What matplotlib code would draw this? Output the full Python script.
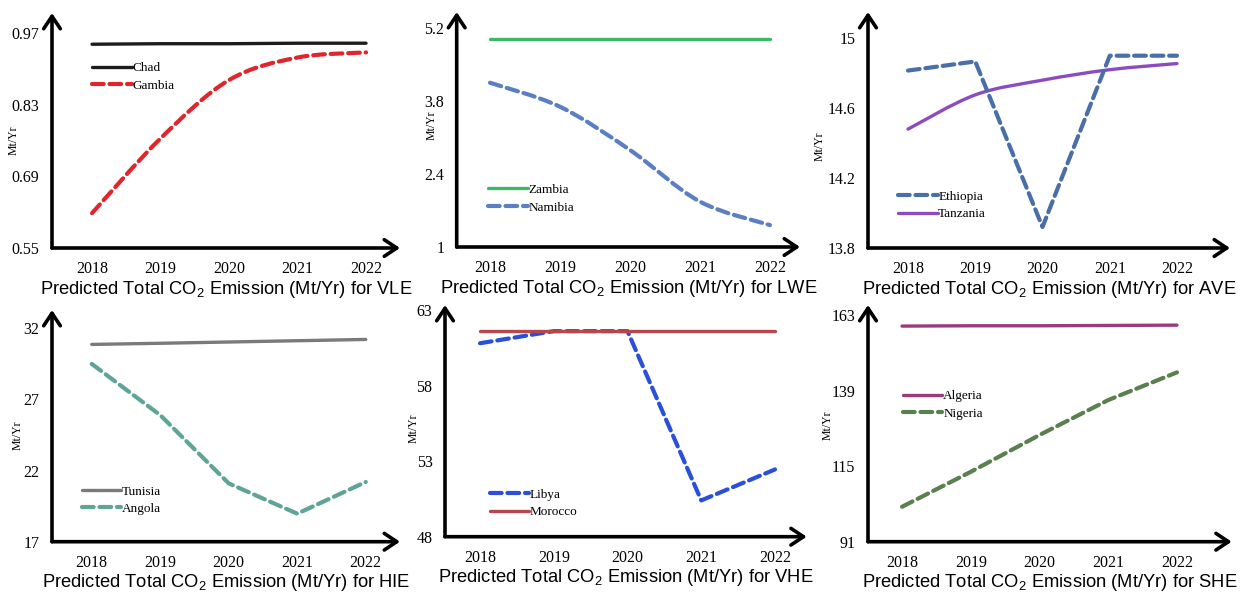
import matplotlib
matplotlib.use("Agg")
import matplotlib.pyplot as plt
from matplotlib.path import Path
from matplotlib.patches import PathPatch
from matplotlib.lines import Line2D

plt.rcParams['mathtext.fontset'] = 'custom'
plt.rcParams['mathtext.rm'] = 'Liberation Sans'
plt.rcParams['mathtext.it'] = 'Liberation Sans:italic'
plt.rcParams['mathtext.bf'] = 'Liberation Sans:bold'

years = [2018, 2019, 2020, 2021, 2022]
year_labels = ['2018', '2019', '2020', '2021', '2022']

# VLE
chad = [0.948, 0.949, 0.949, 0.950, 0.950]
gambia = [0.618, 0.764, 0.878, 0.922, 0.932]
vle_ticks = [0.55, 0.69, 0.83, 0.97]
vle_ticklabels = ['0.55', '0.69', '0.83', '0.97']
# LWE
zambia = [4.98, 4.98, 4.98, 4.98, 4.98]
namibia = [4.15, 3.69, 2.86, 1.87, 1.42]
lwe_ticks = [1, 2.4, 3.8, 5.2]
lwe_ticklabels = ['1', '2.4', '3.8', '5.2']
# AVE
ethiopia = [14.815, 14.867, 13.92, 14.90, 14.90]
tanzania = [14.48, 14.676, 14.76, 14.82, 14.855]
ave_ticks = [13.8, 14.2, 14.6, 15.0]
ave_ticklabels = ['13.8', '14.2', '14.6', '15']
# HIE
tunisia = [30.87, 30.95, 31.04, 31.13, 31.22]
angola = [29.5, 25.9, 21.1, 18.97, 21.2]
hie_ticks = [17, 22, 27, 32]
hie_ticklabels = ['17', '22', '27', '32']
# VHE
libya = [60.8, 61.6, 61.6, 50.4, 52.45]
morocco = [61.6, 61.6, 61.6, 61.6, 61.6]
vhe_ticks = [48, 53, 58, 63]
vhe_ticklabels = ['48', '53', '58', '63']
# SHE
algeria = [159.5, 159.6, 159.6, 159.7, 159.8]
nigeria = [102.1, 113.2, 124.9, 136.0, 144.8]
she_ticks = [91, 115, 139, 163]
she_ticklabels = ['91', '115', '139', '163']

W, H = 1252, 593
fig = plt.figure(figsize=(W / 100, H / 100), dpi=100)

SERIF = 'Liberation Serif'
SANS = 'Liberation Sans'
DASH = (0, (2.8, 1.4))


def smooth_path(xs, ys):
    # Catmull-Rom style smoothing rendered as cubic Bezier segments
    verts = [(xs[0], ys[0])]
    codes = [Path.MOVETO]
    n = len(xs)
    for i in range(n - 1):
        x0, y0 = (xs[i - 1], ys[i - 1]) if i > 0 else (xs[i], ys[i])
        x1, y1 = xs[i], ys[i]
        x2, y2 = xs[i + 1], ys[i + 1]
        x3, y3 = (xs[i + 2], ys[i + 2]) if i + 2 < n else (xs[i + 1], ys[i + 1])
        c1 = (x1 + (x2 - x0) / 6.0, y1 + (y2 - y0) / 6.0)
        c2 = (x2 - (x3 - x1) / 6.0, y2 - (y3 - y1) / 6.0)
        verts += [c1, c2, (x2, y2)]
        codes += [Path.CURVE4, Path.CURVE4, Path.CURVE4]
    return Path(verts, codes)


panels = [
    dict(px=(52, 13, 400, 248), xlim=(2017.416, 2022.496), ylim=(0.55, 1.009),
         ticks=vle_ticks, tl=vle_ticklabels, name='VLE',
         series=[('Chad', chad, '#1c1c1c', False, False, 2.4),
                 ('Gambia', gambia, '#e0262c', True, True, 3.0)],
         leg=(0.115, 0.757), ylab=(-0.109, 0.46)),
    dict(px=(456.7, 12, 800, 247), xlim=(2017.524, 2022.429), ylim=(1.0, 5.507),
         ticks=lwe_ticks, tl=lwe_ticklabels, name='LWE',
         series=[('Zambia', zambia, '#3cb867', False, False, 2.4),
                 ('Namibia', namibia, '#5b7fc4', True, True, 3.0)],
         leg=(0.091, 0.235), ylab=(-0.072, 0.52)),
    dict(px=(868, 12, 1230, 248), xlim=(2017.405, 2022.788), ylim=(13.8, 15.15),
         ticks=ave_ticks, tl=ave_ticklabels, name='AVE',
         series=[('Ethiopia', ethiopia, '#4a6fa8', True, False, 3.0),
                 ('Tanzania', tanzania, '#8a4cc0', False, True, 2.4)],
         leg=(0.083, 0.21), ylab=(-0.133, 0.43)),
    dict(px=(52, 310, 400, 541.7), xlim=(2017.42, 2022.50), ylim=(17, 33.29),
         ticks=hie_ticks, tl=hie_ticklabels, name='HIE',
         series=[('Tunisia', tunisia, '#7a7a7a', False, False, 2.4),
                 ('Angola', angola, '#5fa597', True, False, 3.0)],
         leg=(0.085, 0.209), ylab=(-0.098, 0.46)),
    dict(px=(445, 305, 806.7, 536.7), xlim=(2017.525, 2022.43), ylim=(48, 63.33),
         ticks=vhe_ticks, tl=vhe_ticklabels, name='VHE',
         series=[('Libya', libya, '#2a4fd8', True, False, 3.0),
                 ('Morocco', morocco, '#b5474d', False, False, 2.4)],
         leg=(0.124, 0.173), ylab=(-0.088, 0.47)),
    dict(px=(868, 305, 1231.7, 541.7), xlim=(2017.505, 2022.796), ylim=(91, 166.2),
         ticks=she_ticks, tl=she_ticklabels, name='SHE',
         series=[('Algeria', algeria, '#9c3b7c', False, False, 2.4),
                 ('Nigeria', nigeria, '#5a8050', True, False, 3.0)],
         leg=(0.096, 0.606), ylab=(-0.11, 0.49)),
]

for p in panels:
    l, t, r, b = p['px']
    ax = fig.add_axes([l / W, 1 - b / H, (r - l) / W, (b - t) / H])
    ax.set_xlim(*p['xlim'])
    ax.set_ylim(*p['ylim'])
    for s in ax.spines.values():
        s.set_visible(False)
    ax.patch.set_alpha(0)
    handles = []
    for label, vals, color, dashed, smooth, lw in p['series']:
        ls = DASH if dashed else '-'
        if smooth:
            patch = PathPatch(smooth_path(years, vals), fill=False, edgecolor=color,
                              lw=lw, linestyle=ls, capstyle='round', joinstyle='round')
            ax.add_patch(patch)
        else:
            ax.plot(years, vals, color=color, lw=lw, linestyle=ls,
                    dash_capstyle='round', solid_capstyle='round')
        handles.append(Line2D([], [], color=color, lw=lw, linestyle=ls,
                              dash_capstyle='round', solid_capstyle='round', label=label))
    ax.legend(handles=handles, loc='upper left',
              bbox_to_anchor=(p['leg'][0], p['leg'][1] + 8 / (b - t)),
              frameon=False, borderpad=0, borderaxespad=0, handlelength=3.0,
              handletextpad=0.05, labelspacing=0.4,
              prop={'family': SERIF, 'size': 9.5})
    ax.set_xticks(years)
    ax.set_xticklabels(year_labels, fontfamily=SERIF, fontsize=11.5)
    ax.set_yticks(p['ticks'])
    ax.set_yticklabels(p['tl'], fontfamily=SERIF, fontsize=11.5)
    ax.tick_params(axis='both', length=0)
    ax.tick_params(axis='y', pad=9)
    ax.tick_params(axis='x', pad=9.5)
    ax.set_ylabel('Mt/Yr', fontfamily=SERIF, fontsize=8.5)
    ax.yaxis.set_label_coords(p['ylab'][0] + 6 / (r - l), p['ylab'][1])
    ax.set_xlabel('Predicted Total CO$_2$ Emission (Mt/Yr) for ' + p['name'],
                  fontfamily=SANS, fontsize=13.2, labelpad=1.0)
    for end in [(1, 0), (0, 1)]:
        ax.annotate('', xy=end, xytext=(0, 0), xycoords='axes fraction',
                    arrowprops=dict(arrowstyle='->,head_length=0.45,head_width=0.3',
                                    lw=2.6, color='black', shrinkA=0, shrinkB=0,
                                    mutation_scale=20))

fig.savefig('out.png', dpi=100)
